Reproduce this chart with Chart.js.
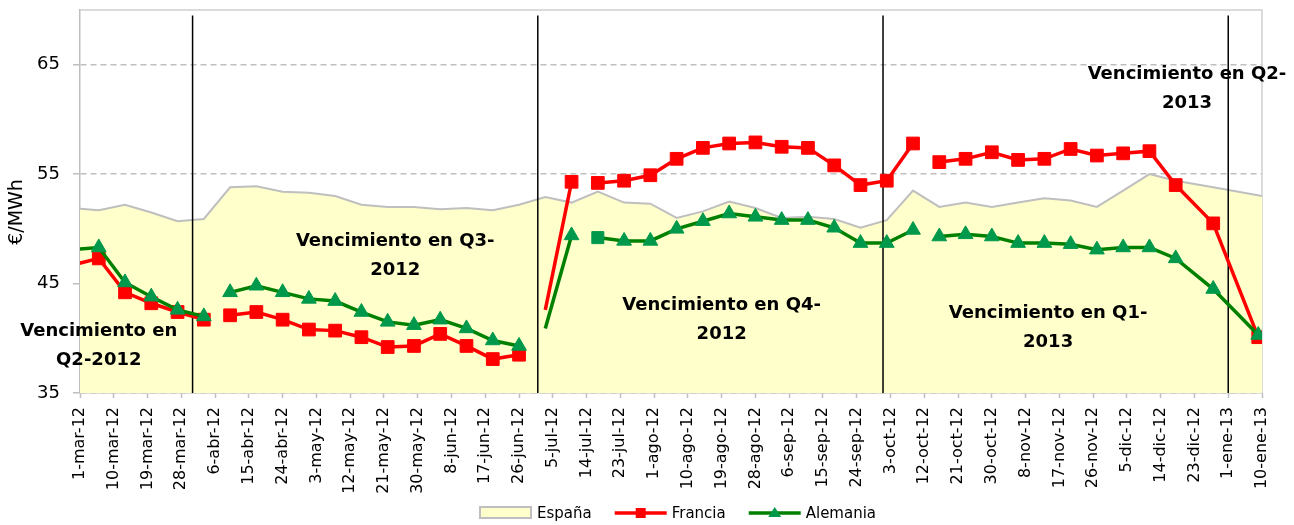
<!DOCTYPE html>
<html lang="es">
<head>
<meta charset="utf-8">
<title>Precios a plazo por vencimiento trimestral</title>
<script src="https://cdn.jsdelivr.net/npm/chart.js@4.4.1/dist/chart.umd.min.js"></script>
<style>
  html, body { margin: 0; padding: 0; background: #fff; }
  #grafico { display: block; }
</style>
</head>
<body>
<canvas id="grafico" width="1294" height="525"></canvas>
<script>
/* datos */

const fechas = [
    "2012-02-28", "2012-03-06", "2012-03-13", "2012-03-20", "2012-03-27", "2012-04-03",
    "2012-04-10", "2012-04-17", "2012-04-24", "2012-05-01", "2012-05-08", "2012-05-15",
    "2012-05-22", "2012-05-29", "2012-06-05", "2012-06-12", "2012-06-19", "2012-06-26",
    "2012-07-03", "2012-07-10", "2012-07-17", "2012-07-24", "2012-07-31", "2012-08-07",
    "2012-08-14", "2012-08-21", "2012-08-28", "2012-09-04", "2012-09-11", "2012-09-18",
    "2012-09-25", "2012-10-02", "2012-10-09", "2012-10-16", "2012-10-23", "2012-10-30",
    "2012-11-06", "2012-11-13", "2012-11-20", "2012-11-27", "2012-12-04", "2012-12-11",
    "2012-12-18", "2012-12-28", "2013-01-09"
];

// España llega hasta el borde derecho del eje
const fechasEspana = fechas.slice(0, -1).concat(["2013-01-10"]);

const espana = [
    51.9, 51.7, 52.2, 51.5, 50.7, 50.9,
    53.8, 53.9, 53.4, 53.3, 53.0, 52.2, 52.0, 52.0, 51.8, 51.9, 51.7, 52.2,
    52.9, 52.4,
    53.4, 52.4, 52.3, 51.0, 51.6, 52.5, 51.9, 51.0, 51.1, 50.9, 50.1, 50.8, 53.5,
    52.0, 52.4, 52.0, 52.4, 52.8, 52.6, 52.0, 53.5, 55.0, 54.4, 53.8, 53.0
];

const francia = [
    46.7, 47.3, 44.2, 43.2, 42.4, 41.7,
    42.1, 42.4, 41.7, 40.8, 40.7, 40.1, 39.2, 39.3, 40.4, 39.3, 38.1, 38.5,
    42.6, 54.3,
    54.2, 54.4, 54.9, 56.4, 57.4, 57.8, 57.9, 57.5, 57.4, 55.8, 54.0, 54.4, 57.8,
    56.1, 56.4, 57.0, 56.3, 56.4, 57.3, 56.7, 56.9, 57.1, 54.0, 50.5, 40.1
];

const alemania = [
    48.1, 48.3, 45.1, 43.8, 42.6, 42.0,
    44.2, 44.8, 44.2, 43.6, 43.4, 42.4, 41.5, 41.2, 41.7, 40.9, 39.8, 39.3,
    40.9, 49.4,
    49.2, 48.9, 48.9, 50.0, 50.7, 51.4, 51.1, 50.8, 50.8, 50.1, 48.7, 48.7, 49.9,
    49.3, 49.5, 49.3, 48.7, 48.7, 48.6, 48.1, 48.3, 48.3, 47.3, 44.5, 40.3
];

// la linea no se une con el punto anterior en estas fechas (cambio de contrato)
const cortes = ["2012-04-10", "2012-07-03", "2012-07-17", "2012-10-16"];
const sinMarcador = ["2012-07-03"];
const marcadorCuadrado = ["2012-07-17"];

const finesTrimestre = ["2012-03-31", "2012-07-01", "2012-10-01", "2013-01-01"];
const topeLineas = 69.5;

const ticksY = [35, 45, 55, 65];
const mesesCortos = ["ene", "feb", "mar", "abr", "may", "jun", "jul", "ago", "sep", "oct", "nov", "dic"];

const rotulos = [
    { lineas: ["Vencimiento en", "Q2-2012"], fecha: "2012-03-06", valor: 40.6 },
    { lineas: ["Vencimiento en Q3-", "2012"], fecha: "2012-05-24", valor: 48.9 },
    { lineas: ["Vencimiento en Q4-", "2012"], fecha: "2012-08-19", valor: 43.0 },
    { lineas: ["Vencimiento en Q1-", "2013"], fecha: "2012-11-14", valor: 42.3 },
    { lineas: ["Vencimiento en Q2-", "2013"], fecha: "2012-12-21", valor: 64.1 }
];

/* helpers */

const DIA = 86400000;
const INICIO = Date.UTC(2012, 2, 1);
const dia = f => (Date.parse(f) - INICIO) / DIA;
const serie = (fs, vs) => fs.map((f, i) => ({ x: dia(f), y: vs[i] }));
const diasCorte = cortes.map(dia);

function etiquetaFecha(d) {
    const f = new Date(INICIO + d * DIA);
    return `${f.getUTCDate()}-${mesesCortos[f.getUTCMonth()]}-${String(f.getUTCFullYear()).slice(2)}`;
}

const tramo = {
    borderColor: ctx => diasCorte.includes(ctx.p1.parsed.x) ? "rgba(0,0,0,0)" : undefined
};

const FUENTE = "DejaVu Sans";
const GRIS = "#BFBFBF";
const ROJO = "#FF0000";
const VERDE = "#008000";
const VERDE_MARCA = "#00994C";
const AMARILLO = "#FFFFCC";

/* plugin: marco, rotulos, titulo del eje y leyenda */

const extras = {
    id: "extras",
    beforeDatasetsDraw(chart) {
        const { ctx, chartArea: a } = chart;
        ctx.save();
        ctx.strokeStyle = "#D0D0D0";
        ctx.lineWidth = 1.5;
        ctx.beginPath();
        ctx.moveTo(a.left, a.top);
        ctx.lineTo(a.right, a.top);
        ctx.lineTo(a.right, a.bottom);
        ctx.stroke();
        ctx.restore();
    },
    afterDraw(chart) {
        const { ctx, scales } = chart;
        ctx.save();

        // rotulos de vencimiento
        ctx.fillStyle = "#000";
        ctx.font = `bold 18px "${FUENTE}"`;
        ctx.textAlign = "center";
        ctx.textBaseline = "middle";
        rotulos.forEach(r => {
            const x = scales.x.getPixelForValue(dia(r.fecha));
            const y = scales.y.getPixelForValue(r.valor);
            r.lineas.forEach((t, i) => ctx.fillText(t, x, y + i * 29));
        });

        // titulo del eje y
        ctx.save();
        ctx.translate(17, 212);
        ctx.rotate(-Math.PI / 2);
        ctx.font = `19px "${FUENTE}"`;
        ctx.fillText("€/MWh", 0, 0);
        ctx.restore();

        // leyenda
        const ly = 513;
        let lx = 480;
        ctx.font = `15px "${FUENTE}"`;
        ctx.textAlign = "left";
        const items = [chart.data.datasets[6], chart.data.datasets[1], chart.data.datasets[0]];
        items.forEach((ds, i) => {
            if (i === 0) {
                ctx.fillStyle = AMARILLO;
                ctx.fillRect(lx, ly - 6, 51, 11);
                ctx.strokeStyle = GRIS;
                ctx.lineWidth = 2;
                ctx.strokeRect(lx, ly - 6, 51, 11);
            } else {
                ctx.strokeStyle = ds.borderColor;
                ctx.lineWidth = 3.5;
                ctx.beginPath();
                ctx.moveTo(lx, ly);
                ctx.lineTo(lx + 52, ly);
                ctx.stroke();
                const cx = lx + 26;
                if (i === 1) {
                    ctx.fillStyle = ROJO;
                    ctx.fillRect(cx - 5, ly - 5, 10, 10);
                } else {
                    ctx.fillStyle = VERDE_MARCA;
                    ctx.beginPath();
                    ctx.moveTo(cx, ly - 6);
                    ctx.lineTo(cx + 6.5, ly + 4);
                    ctx.lineTo(cx - 6.5, ly + 4);
                    ctx.closePath();
                    ctx.fill();
                }
            }
            lx += 57;
            ctx.fillStyle = "#000";
            ctx.fillText(ds.label, lx, ly + 1);
            lx += ctx.measureText(ds.label).width + 23;
        });

        ctx.restore();
    }
};

/* grafico */

const lineasTrimestre = finesTrimestre.map(f => ({
    label: "",
    data: [{ x: dia(f), y: 35 }, { x: dia(f), y: topeLineas }],
    borderColor: "#000",
    borderWidth: 1.5,
    pointRadius: 0,
    fill: false
}));

new Chart(document.querySelector("#grafico"), {
    type: "line",
    data: {
        datasets: [
            {
                label: "Alemania",
                data: serie(fechas, alemania),
                borderColor: VERDE,
                borderWidth: 3.5,
                backgroundColor: VERDE_MARCA,
                pointBackgroundColor: VERDE_MARCA,
                pointBorderColor: VERDE_MARCA,
                pointBorderWidth: 1,
                pointStyle: ctx => marcadorCuadrado.includes(fechas[ctx.dataIndex]) ? "rect" : "triangle",
                pointRadius: ctx => {
                    const f = fechas[ctx.dataIndex];
                    if (sinMarcador.includes(f)) return 0;
                    return marcadorCuadrado.includes(f) ? 8.5 : 8.5;
                },
                segment: tramo,
                fill: false
            },
            {
                label: "Francia",
                data: serie(fechas, francia),
                borderColor: ROJO,
                borderWidth: 3.5,
                backgroundColor: ROJO,
                pointBackgroundColor: ROJO,
                pointBorderColor: ROJO,
                pointBorderWidth: 1,
                pointStyle: "rect",
                pointRadius: ctx => sinMarcador.includes(fechas[ctx.dataIndex]) ? 0 : 9,
                segment: tramo,
                fill: false
            },
            ...lineasTrimestre,
            {
                label: "España",
                data: serie(fechasEspana, espana),
                borderColor: GRIS,
                borderWidth: 2,
                backgroundColor: AMARILLO,
                pointRadius: 0,
                fill: "start"
            }
        ]
    },
    options: {
        responsive: false,
        devicePixelRatio: 1,
        animation: false,
        layout: {
            padding: { top: 9, right: 32, left: 0, bottom: 0 }
        },
        plugins: {
            legend: { display: false },
            tooltip: { enabled: false }
        },
        scales: {
            x: {
                type: "linear",
                min: 0,
                max: 315,
                afterFit: s => {
                    s.height = 132;
                    s.paddingLeft = 0;
                    s.paddingRight = 0;
                },
                ticks: {
                    stepSize: 9,
                    autoSkip: false,
                    minRotation: 90,
                    maxRotation: 90,
                    padding: 9,
                    color: "#000",
                    font: { family: FUENTE, size: 16 },
                    callback: v => etiquetaFecha(v)
                },
                grid: {
                    drawOnChartArea: false,
                    tickLength: 5,
                    tickColor: GRIS,
                    tickWidth: 1.5
                },
                border: { color: GRIS, width: 1.5 }
            },
            y: {
                min: 35,
                max: 70,
                afterFit: s => {
                    s.width = 80;
                    s.paddingTop = 0;
                    s.paddingBottom = 0;
                },
                afterBuildTicks: s => { s.ticks = ticksY.map(v => ({ value: v })); },
                ticks: {
                    padding: 13,
                    color: "#000",
                    font: { family: FUENTE, size: 18 }
                },
                grid: {
                    color: GRIS,
                    lineWidth: 1.5,
                    tickLength: 7,
                    tickColor: GRIS,
                    tickBorderDash: []
                },
                border: { color: GRIS, width: 1.5, dash: [6, 4] }
            }
        }
    },
    plugins: [extras]
});
</script>
</body>
</html>
